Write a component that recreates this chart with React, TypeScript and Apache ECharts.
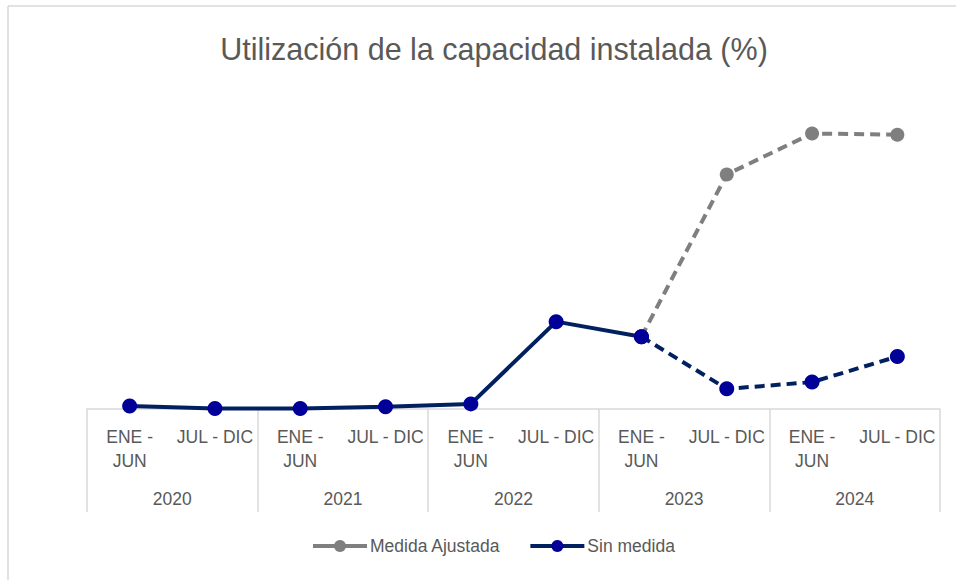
import React, { useEffect, useRef } from "react";
import * as echarts from "echarts";

const periods = ["ENE -\nJUN", "JUL - DIC", "ENE -\nJUN", "JUL - DIC", "ENE -\nJUN", "JUL - DIC", "ENE -\nJUN", "JUL - DIC", "ENE -\nJUN", "JUL - DIC"];
const years = ["2020", "2021", "2022", "2023", "2024"];
const sinMedidaReal = [0.9, 0.15, 0.15, 0.7, 1.6, 27.3, 22.6, null, null, null];
const sinMedidaProy = [null, null, null, null, null, null, 22.6, 6.3, 8.4, 16.4];
const medidaAjustada = [null, null, null, null, null, null, 22.6, 73.3, 86.1, 85.7];

const TEXT = "#595959";
const GRIDLINE = "#D9D9D9";
const NAVY_LINE = "#002060";
const NAVY_DOT = "#000099";
const GRAY = "#7F7F7F";
const SANS = "'Liberation Sans', Arial, sans-serif";

export default function App() {
  const ref = useRef<HTMLDivElement>(null);
  useEffect(() => {
    if (!ref.current) return;
    const chart = echarts.init(ref.current, undefined, { renderer: "svg" });
    chart.setOption({
      animation: false,
      backgroundColor: "#ffffff",
      title: {
        text: "Utilización de la capacidad instalada (%)",
        left: 489,
        textAlign: "center",
        top: 28,
        textStyle: { color: TEXT, fontFamily: SANS, fontSize: 30.5, fontWeight: "normal" },
      },
      legend: {
        bottom: 20,
        left: 306,
        itemWidth: 54,
        itemHeight: 15,
        itemGap: 28,
        data: ["Medida Ajustada", "Sin medida"],
        lineStyle: { width: 4, type: "solid" },
        textStyle: { color: TEXT, fontFamily: SANS, fontSize: 17.5, padding: [0, 0, 0, -2] },
      },
      grid: { left: 87, right: 16, top: 89, bottom: 171, containLabel: false },
      xAxis: [
        {
          type: "category",
          data: periods,
          position: "bottom",
          boundaryGap: true,
          axisLine: { show: true, lineStyle: { color: GRIDLINE, width: 1.5 } },
          axisTick: { show: false },
          axisLabel: { interval: 0, margin: 16, color: TEXT, fontFamily: SANS, fontSize: 17.5, lineHeight: 24 },
        },
        {
          type: "category",
          data: years,
          position: "bottom",
          boundaryGap: true,
          axisLine: { show: false },
          axisTick: { show: true, length: 103, lineStyle: { color: GRIDLINE, width: 1.5 } },
          axisLabel: { interval: 0, margin: 81, color: TEXT, fontFamily: SANS, fontSize: 17.5 },
        },
      ],
      yAxis: { type: "value", min: 0, max: 100, show: false },
      series: [
        {
          name: "Medida Ajustada",
          type: "line",
          data: medidaAjustada,
          symbol: "circle",
          symbolSize: 14,
          lineStyle: { color: GRAY, width: 4, type: [10, 6] },
          itemStyle: { color: GRAY },
          z: 2,
        },
        {
          name: "Sin medida",
          type: "line",
          data: sinMedidaReal,
          symbol: "circle",
          symbolSize: 15,
          lineStyle: { color: NAVY_LINE, width: 4 },
          itemStyle: { color: NAVY_DOT },
          z: 3,
        },
        {
          name: "Sin medida",
          type: "line",
          data: sinMedidaProy,
          symbol: "circle",
          symbolSize: 15,
          lineStyle: { color: NAVY_LINE, width: 4, type: [10, 6] },
          itemStyle: { color: NAVY_DOT },
          z: 3,
        },
      ],
      graphic: [
        { type: "line", shape: { x1: 8, y1: 6, x2: 956, y2: 6 }, style: { stroke: GRIDLINE, lineWidth: 1.5 } },
        { type: "line", shape: { x1: 8, y1: 6, x2: 8, y2: 580 }, style: { stroke: GRIDLINE, lineWidth: 1.5 } },
      ],
    });
    return () => chart.dispose();
  }, []);
  return <div ref={ref} style={{ position: "fixed", left: 0, top: 0, width: 956, height: 580 }} />;
}
